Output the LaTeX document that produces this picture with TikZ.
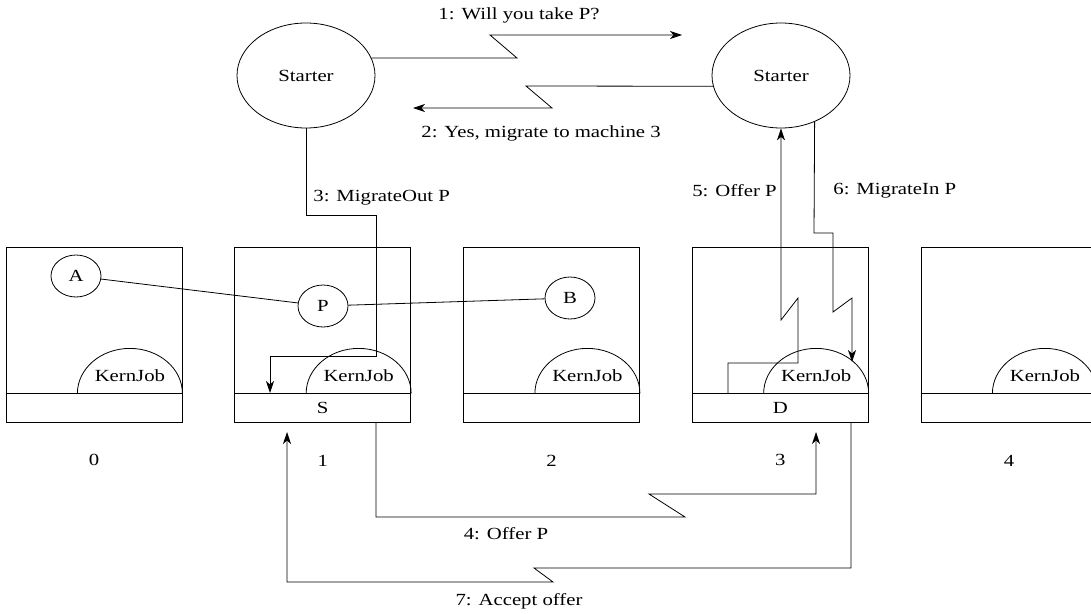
\documentclass[tikz,border=0pt]{standalone}
\usepackage{fontspec}
\setmainfont{Liberation Serif}[FakeStretch=1.22]
\usetikzlibrary{arrows.meta,shapes.geometric}
\tikzset{
  proc/.style={draw,ellipse,inner sep=0pt,minimum width=50pt,minimum height=42pt},
  starter/.style={draw,ellipse,inner sep=0pt,minimum width=138pt,minimum height=105pt},
  machine/.style={draw,rectangle,inner sep=0pt,minimum width=176pt,minimum height=175pt},
  lbl/.style={inner sep=0pt}
}
\begin{document}
\begin{tikzpicture}[x=1pt,y=-1pt,>={Stealth[length=12pt,width=8pt,inset=3.5pt]},line width=.8pt,font=\fontsize{17}{20}\selectfont]
  \useasboundingbox (0,0) rectangle (1091,613);
  % machines
  \foreach \i in {0,...,4} {
    \node[machine] (m\i) at (94+228.75*\i,334.5) {};
    \draw ([yshift=29pt]m\i.south west) -- ([yshift=29pt]m\i.south east);
    \draw ([yshift=29pt]m\i.south east) arc[start angle=0,end angle=-180,x radius=52.5,y radius=45];
    \node[lbl] at ([xshift=-52.5pt,yshift=47pt]m\i.south east) {KernJob};
    \node[lbl] at ([yshift=-38pt]m\i.south) {\i};
  }
  \node[lbl] at ([yshift=14pt]m1.south) {S};
  \node[lbl] at ([yshift=14pt]m3.south) {D};
  % processes
  \node[proc] (A) at (76,276) {A};
  \node[proc] (P) at (323,306) {P};
  \node[proc] (B) at (570,298) {B};
  \draw (A) -- (P) -- (B);
  % starters
  \node[starter] (s1) at (306,75.5) {Starter};
  \node[starter] (s2) at (781,75.5) {Starter};
  % free ends
  \coordinate (q1) at (682,35);
  \coordinate (q2) at (413,108);
  \coordinate (t1) at (270,393);
  \coordinate (t3) at (852,362);
  \coordinate (u3) at (816,432);
  \coordinate (u1) at (287,432);
  % 1 and 2
  \draw[->] (s1.15) -- (517,58) -- (490,35) -- (q1);
  \node[lbl] at (519,15) {1: Will you take P?};
  \draw[->] (s2.189) -- (526,86) -- (552,108) -- (q2);
  \node[lbl] at (541,133) {2: Yes, migrate to machine 3};
  % 3
  \draw[->] (s1.south) -- (306,215) -- (376,215) -- (376,356) -- (270,356) -- (t1);
  \node[lbl,anchor=west] at (313,198) {3: MigrateOut P};
  % 4
  \draw[->] (376,422) -- (376,517) -- (685,517) -- (649,494) -- (816,494) -- (u3);
  \node[lbl] at (506,534) {4: Offer P};
  % 5
  \draw[->] (728,393) -- (728,363) -- (798,363) -- (798,298) -- (781,320) -- (s2.south);
  \node[lbl,anchor=east] at (777,191) {5: Offer P};
  % 6
  \draw[->] (s2.-54) -- (814,233) -- (833,233) -- (833,312) -- (852,298) -- (t3);
  \node[lbl,anchor=west] at (833,191) {6: MigrateIn P};
  % 7
  \draw[->] (851,422) -- (851,568) -- (534,568) -- (553,582) -- (287,582) -- (u1);
  \node[lbl] at (519,601) {7: Accept offer};
\end{tikzpicture}
\end{document}
